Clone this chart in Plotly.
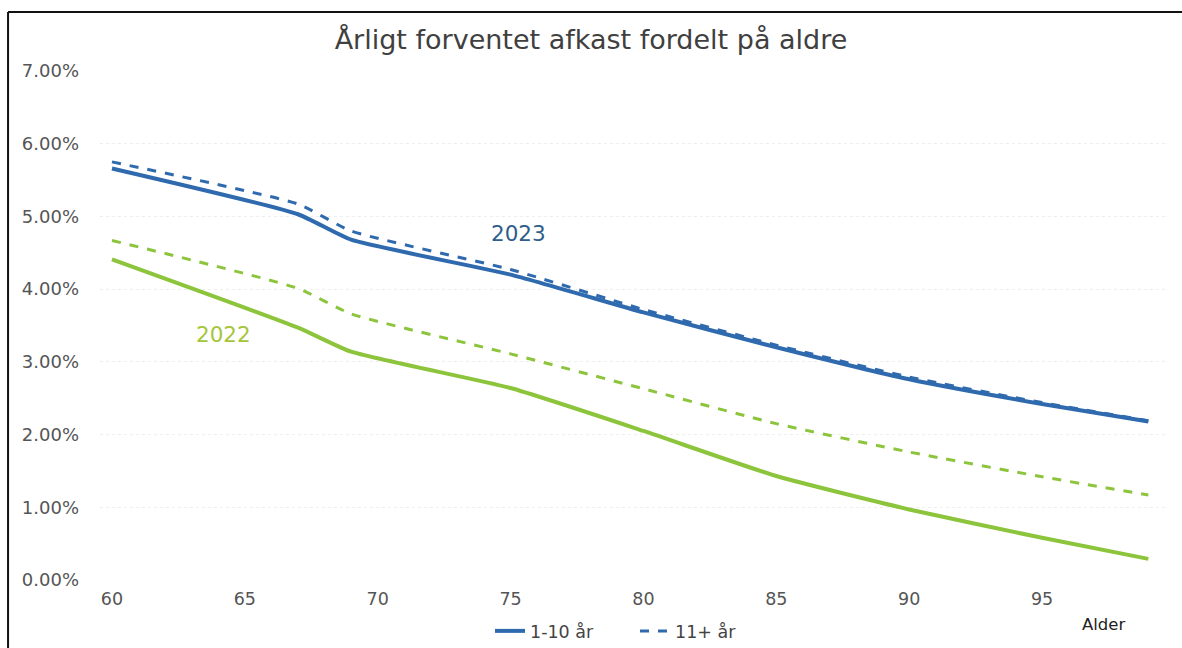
import plotly.graph_objects as go

ages = [60, 67, 69, 75, 80, 85, 90, 95, 99]
y2023_short = [0.0566, 0.0503, 0.0468, 0.0420, 0.0368, 0.0320, 0.0276, 0.0242, 0.0218]
y2023_long = [0.0575, 0.0517, 0.0480, 0.0427, 0.0372, 0.0323, 0.0279, 0.0244, 0.0219]
y2022_short = [0.0441, 0.0347, 0.0314, 0.0264, 0.0205, 0.0143, 0.0097, 0.0058, 0.0029]
y2022_long = [0.0467, 0.0401, 0.0366, 0.0311, 0.0263, 0.0215, 0.0176, 0.0142, 0.0117]

x_ticks = [60, 65, 70, 75, 80, 85, 90, 95]
y_ticks = [0, 0.01, 0.02, 0.03, 0.04, 0.05, 0.06, 0.07]

BLUE = "#2f6aae"
GREEN = "#8cc43c"

fig = go.Figure()
fig.add_trace(go.Scatter(x=ages, y=y2022_short, mode="lines", showlegend=False,
                         line=dict(color=GREEN, width=4, shape="spline", smoothing=0.5)))
fig.add_trace(go.Scatter(x=ages, y=y2022_long, mode="lines", showlegend=False,
                         line=dict(color=GREEN, width=3, dash="dash", shape="spline", smoothing=0.5)))
fig.add_trace(go.Scatter(x=ages, y=y2023_short, mode="lines", name="1-10 år",
                         line=dict(color=BLUE, width=4, shape="spline", smoothing=0.5)))
fig.add_trace(go.Scatter(x=ages, y=y2023_long, mode="lines", name="11+ år",
                         line=dict(color=BLUE, width=3, dash="dash", shape="spline", smoothing=0.5)))

fig.add_annotation(x=75.28, y=0.0477, text="2023", showarrow=False,
                   xanchor="center", yanchor="middle",
                   font=dict(size=21.5, color="#2f5d8c", family="DejaVu Sans"))
fig.add_annotation(x=64.2, y=0.0338, text="2022", showarrow=False,
                   xanchor="center", yanchor="middle",
                   font=dict(size=21.5, color="#a6c63a", family="DejaVu Sans"))
fig.add_annotation(xref="paper", yref="paper", x=0.940, y=-0.088, text="Alder",
                   showarrow=False, xanchor="center", yanchor="middle",
                   font=dict(size=16.5, color="#222222", family="DejaVu Sans"))

# scanned frame border (top and left)
fig.add_shape(type="line", xref="paper", yref="paper", x0=-0.0861, x1=1.02, y0=1.116, y1=1.116,
              line=dict(color="#111111", width=2))
fig.add_shape(type="line", xref="paper", yref="paper", x0=-0.0861, x1=-0.0861, y0=1.116, y1=-0.14,
              line=dict(color="#111111", width=2))

fig.update_layout(
    width=1182, height=648,
    margin=dict(l=100, r=14, t=71, b=68),
    paper_bgcolor="white", plot_bgcolor="white",
    font=dict(family="DejaVu Sans", color="#555555"),
    title=dict(text="Årligt forventet afkast fordelt på aldre", x=0.5, xanchor="center",
               y=1 - 40 / 648, yanchor="middle",
               font=dict(size=27, color="#404040", family="DejaVu Sans")),
    legend=dict(orientation="h", xref="container", yref="container",
                x=490 / 1182, xanchor="left", y=1 - 631 / 648, yanchor="middle",
                font=dict(size=17.5, color="#444444"), bgcolor="rgba(0,0,0,0)",
                entrywidth=100, entrywidthmode="pixels"),
    xaxis=dict(range=[59.55, 99.74], tickvals=x_ticks, showgrid=False, zeroline=False,
               showline=False, ticks="", automargin=False, ticklabelstandoff=6,
               tickfont=dict(size=17.5, color="#555555")),
    yaxis=dict(range=[0, 0.07], tickvals=y_ticks, tickformat=".2%", showgrid=True,
               gridcolor="#eeeeee", griddash="dot", zeroline=False, showline=False,
               ticks="", automargin=False, ticklabelstandoff=20,
               tickfont=dict(size=18, color="#555555")),
)

# remove the default 8px page margin so the figure sits at the window origin
fig.write_html("out.html", config={"displayModeBar": False},
               post_script="document.body.style.margin='0';document.body.style.overflow='hidden';")
